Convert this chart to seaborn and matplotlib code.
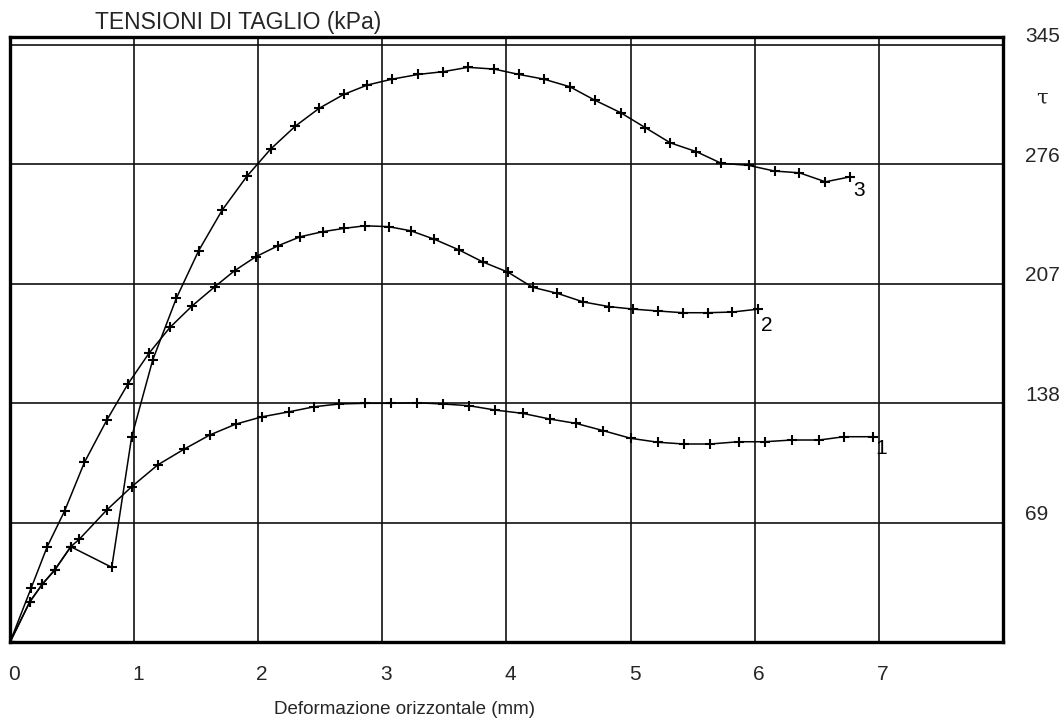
import numpy as np
import pandas as pd
import matplotlib
matplotlib.use("Agg")
import matplotlib.pyplot as plt
import matplotlib.transforms as mtransforms
import seaborn as sns

# shear curves (x in mm, tau in kPa)
x1 = [0, 0.16, 0.26, 0.36, 0.49, 0.56, 0.78, 0.98, 1.19, 1.40, 1.61, 1.82, 2.03,
      2.25, 2.45, 2.65, 2.86, 3.07, 3.28, 3.49, 3.70, 3.91, 4.13, 4.35, 4.56,
      4.78, 5.00, 5.22, 5.43, 5.64, 5.87, 6.08, 6.30, 6.52, 6.72, 6.95]
y1 = [0, 23.4, 33.5, 41.7, 55.2, 59.6, 76.4, 89.8, 102.4, 111.4, 119.7, 126.0, 130.2,
      133.1, 136.0, 137.6, 138.0, 138.0, 138.3, 137.6, 136.6, 134.1, 132.2, 128.9, 126.4,
      122.2, 117.8, 115.5, 114.5, 114.5, 115.8, 115.8, 116.8, 116.8, 118.7, 118.7]

x2 = [0, 0.17, 0.30, 0.44, 0.60, 0.78, 0.95, 1.12, 1.29, 1.47, 1.65, 1.81, 1.98,
      2.16, 2.34, 2.52, 2.69, 2.86, 3.05, 3.23, 3.42, 3.62, 3.81, 4.01, 4.21,
      4.41, 4.62, 4.83, 5.02, 5.22, 5.42, 5.62, 5.82, 6.03]
y2 = [0, 31.2, 55.2, 75.8, 103.9, 128.3, 149.1, 166.9, 181.9, 194.4, 205.3, 214.6, 222.6,
      229.0, 234.2, 237.1, 239.0, 240.5, 240.0, 237.6, 232.7, 226.5, 219.6, 213.8, 205.0,
      201.5, 196.5, 193.8, 192.4, 191.3, 190.3, 190.3, 190.7, 192.4]

x3 = [0, 0.16, 0.26, 0.36, 0.49, 0.82, 0.98, 1.15, 1.34, 1.52, 1.71, 1.91, 2.10,
      2.30, 2.49, 2.69, 2.88, 3.08, 3.29, 3.49, 3.69, 3.90, 4.10, 4.30, 4.51,
      4.71, 4.92, 5.12, 5.32, 5.53, 5.73, 5.95, 6.16, 6.36, 6.57, 6.77]
y3 = [0, 23.4, 33.5, 41.7, 55.2, 43.3, 118.4, 163.0, 198.6, 226.1, 249.6, 269.2, 284.8,
      298.1, 308.3, 316.4, 321.8, 325.2, 327.9, 329.5, 332.0, 331.0, 327.9, 325.2, 320.8,
      313.1, 305.8, 297.1, 288.4, 283.3, 276.6, 275.4, 272.1, 271.1, 265.9, 268.8]

curve_names = ["1", "2", "3"]
label_pos = {"1": (6.97, 112), "2": (6.05, 183), "3": (6.79, 261)}

x_ticks = [0, 1, 2, 3, 4, 5, 6, 7]
y_ticks = [69, 138, 207, 276, 345]

df = pd.concat([
    pd.DataFrame({"defo": x1, "tau": y1, "curve": "1"}),
    pd.DataFrame({"defo": x2, "tau": y2, "curve": "2"}),
    pd.DataFrame({"defo": x3, "tau": y3, "curve": "3"}),
], ignore_index=True)

sns.set_theme(style="white")
plt.rcParams["font.family"] = ["Liberation Sans", "DejaVu Sans"]

fig = plt.figure(figsize=(10.61, 7.19), dpi=100)
ax = fig.add_axes([0.0094, 0.1067, 0.9359, 0.8418])

sns.lineplot(
    data=df, x="defo", y="tau", hue="curve",
    palette={c: "black" for c in curve_names},
    sort=False, estimator=None, legend=False,
    marker="+", markersize=7.5, markeredgewidth=1.5, markeredgecolor="black",
    linewidth=1.1, ax=ax,
)

for name, (lx, ly) in label_pos.items():
    ax.text(lx, ly, name, fontsize=15, ha="left", va="center", color="black")

ax.set_xlim(0, 8)
ax.set_ylim(0, 349.5)

# grid lines
for gx in x_ticks[1:]:
    ax.axvline(gx, color="#111111", lw=1.2, zorder=0)
for gy in y_ticks:
    ax.axhline(gy, color="#111111", lw=1.2, zorder=0)

for sp in ax.spines.values():
    sp.set_visible(True)
    sp.set_color("black")
    sp.set_linewidth(2.4)

ax.set_xticks(x_ticks)
ax.set_xticklabels([str(t) for t in x_ticks], fontsize=15)
ax.tick_params(axis="x", length=0, pad=16)
for lab in ax.get_xticklabels():
    lab.set_transform(lab.get_transform() + mtransforms.ScaledTranslation(4 / 100, 0, fig.dpi_scale_trans))

ax.yaxis.tick_right()
ax.set_yticks(y_ticks)
ax.set_yticklabels([str(t) for t in y_ticks], fontsize=15)
ax.tick_params(axis="y", length=0, pad=16)
for lab in ax.get_yticklabels():
    lab.set_transform(lab.get_transform() + mtransforms.ScaledTranslation(0, 10 / 100, fig.dpi_scale_trans))

ax.set_xlabel("")
ax.set_ylabel("")

fig.text(95 / 1061, 1 - 22 / 719, "TENSIONI DI TAGLIO (kPa)", fontsize=16.5,
         ha="left", va="center")
fig.text(404 / 1061, 1 - 709 / 719, "Deformazione orizzontale (mm)", fontsize=13.5,
         ha="center", va="center")
fig.text(1042 / 1061, 1 - 98 / 719, "τ", fontsize=15, ha="center", va="center",
         family=["DejaVu Serif"])

fig.savefig("out.png", dpi=100)
